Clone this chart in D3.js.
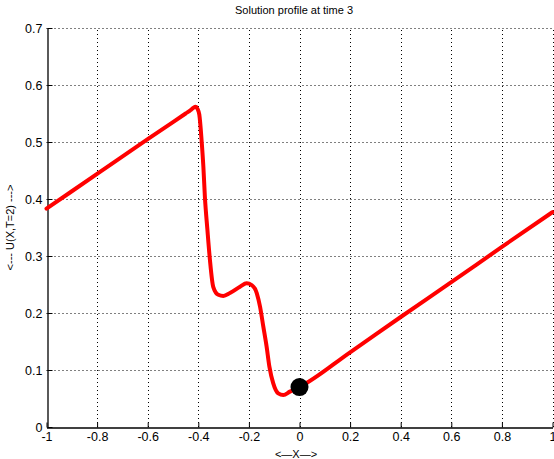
<!DOCTYPE html>
<html>
<head>
<meta charset="utf-8">
<script src="https://cdn.jsdelivr.net/npm/d3@7/dist/d3.min.js"></script>
<style>
html,body{margin:0;padding:0;background:#fff;}
svg{display:block;font-family:"Liberation Sans",Arial,sans-serif;}
</style>
</head>
<body>
<script>
const titleText = "Solution profile at time 3";
const xLabelText = "<\u2014X\u2014>";
const yLabelText = "<--- U(X,T=2) --->";
const xTicks = [-1, -0.8, -0.6, -0.4, -0.2, 0, 0.2, 0.4, 0.6, 0.8, 1];
const xTickLabels = ["-1", "-0.8", "-0.6", "-0.4", "-0.2", "0", "0.2", "0.4", "0.6", "0.8", "1"];
const yTicks = [0, 0.1, 0.2, 0.3, 0.4, 0.5, 0.6, 0.7];
const yTickLabels = ["0", "0.1", "0.2", "0.3", "0.4", "0.5", "0.6", "0.7"];
const curveX = [-1, -0.8, -0.6, -0.45, -0.43, -0.42, -0.41, -0.403, -0.396, -0.387, -0.380, -0.374, -0.364, -0.354, -0.341, -0.321, -0.301, -0.275, -0.235, -0.209, -0.189, -0.169, -0.156, -0.143, -0.130, -0.119, -0.104, -0.084, -0.064, -0.038, 0, 0.2, 0.4, 0.6, 0.8, 1];
const curveY = [0.383, 0.444, 0.505, 0.550, 0.556, 0.560, 0.562, 0.558, 0.548, 0.503, 0.457, 0.404, 0.346, 0.293, 0.246, 0.232, 0.230, 0.235, 0.246, 0.252, 0.249, 0.235, 0.211, 0.176, 0.141, 0.106, 0.077, 0.059, 0.056, 0.062, 0.070, 0.131, 0.193, 0.254, 0.316, 0.377];
const dotX = [0];
const dotY = [0.07];

const W = 554, H = 459;
const m = {left: 46.5, right: 1.5, top: 28, bottom: 32};
const svg = d3.select("body").append("svg").attr("width", W).attr("height", H);

const x = d3.scaleLinear().domain([-1, 1]).range([m.left, W - m.right]);
const y = d3.scaleLinear().domain([0, 0.7]).range([H - m.bottom, m.top]);

// grid
const g = svg.append("g");
g.selectAll("line.vg").data(xTicks.slice(1)).enter().append("line")
  .attr("x1", d => Math.round(x(d)) + 0.5).attr("x2", d => Math.round(x(d)) + 0.5)
  .attr("y1", y(0)).attr("y2", y(0.7))
  .attr("stroke", "#000").attr("stroke-width", 1).attr("stroke-dasharray", "1,3");
g.selectAll("line.hg").data(yTicks.slice(1)).enter().append("line")
  .attr("y1", d => Math.round(y(d)) + 0.5).attr("y2", d => Math.round(y(d)) + 0.5)
  .attr("x1", x(-1)).attr("x2", x(1))
  .attr("stroke", "#000").attr("stroke-width", 1).attr("stroke-dasharray", "1,3");

// axes
const xAxis = d3.axisBottom(x).tickValues(xTicks).tickFormat((d, i) => xTickLabels[i]).tickSizeInner(-5).tickSizeOuter(0).tickPadding(5);
const yAxis = d3.axisLeft(y).tickValues(yTicks).tickFormat((d, i) => yTickLabels[i]).tickSizeInner(-5).tickSizeOuter(0).tickPadding(5);
const gx = svg.append("g").attr("transform", `translate(0,${Math.round(y(0)) + 0.5})`).call(xAxis);
const gy = svg.append("g").attr("transform", `translate(${Math.round(x(-1)) + 0.5},0)`).call(yAxis);
[gx, gy].forEach(a => {
  a.select(".domain").attr("stroke", "#000").attr("stroke-width", 1.3);
  a.selectAll(".tick line").attr("stroke", "#000");
  a.selectAll(".tick text").attr("fill", "#000").attr("font-size", 12.5).attr("font-family", "Liberation Sans, Arial, sans-serif");
});
gx.selectAll(".tick text").attr("dy", "0.71em");
gy.selectAll(".tick text").attr("dy", "0.32em");

// curve
const pts = curveX.map((d, i) => [d, curveY[i]]);
const line = d3.line().x(d => x(d[0])).y(d => y(d[1])).curve(d3.curveMonotoneX);
svg.append("path").datum(pts).attr("d", line)
  .attr("fill", "none").attr("stroke", "#ff0000").attr("stroke-width", 4)
  .attr("stroke-linejoin", "round").attr("stroke-linecap", "round");

// dot
svg.selectAll("circle.dot").data(dotX.map((d, i) => [d, dotY[i]])).enter().append("circle")
  .attr("cx", d => x(d[0])).attr("cy", d => y(d[1])).attr("r", 9).attr("fill", "#000");

// labels
svg.append("text").attr("x", 294).attr("y", 14).attr("text-anchor", "middle")
  .attr("font-size", 11).attr("fill", "#000").text(titleText);
svg.append("text").attr("x", 296).attr("y", 458).attr("text-anchor", "middle")
  .attr("font-size", 11).attr("fill", "#000").text(xLabelText);
svg.append("text").attr("transform", `translate(14,${(y(0) + y(0.7)) / 2}) rotate(-90)`).attr("text-anchor", "middle")
  .attr("font-size", 11).attr("fill", "#000").text(yLabelText);
</script>
</body>
</html>
